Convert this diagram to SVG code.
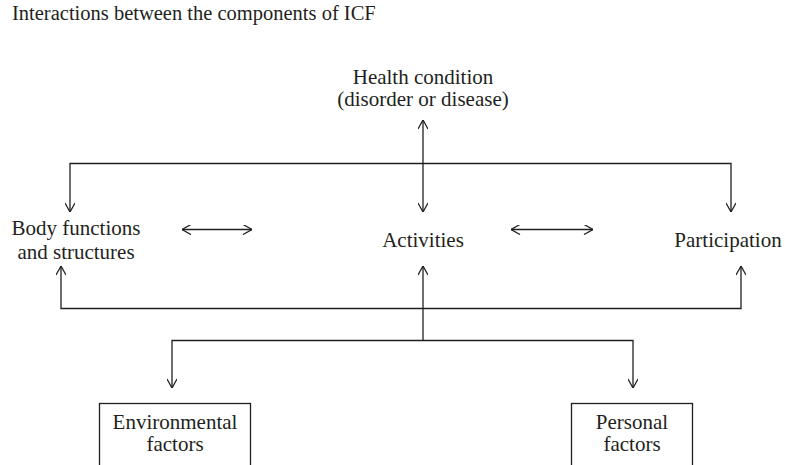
<svg xmlns="http://www.w3.org/2000/svg" width="785" height="465" viewBox="0 0 785 465">
<defs>
<marker id="ah" viewBox="0 0 10 10" refX="10" refY="5" markerWidth="10" markerHeight="10" markerUnits="userSpaceOnUse" orient="auto-start-reverse">
<path d="M1,0 L10,5 L1,10" fill="none" stroke="#231f20" stroke-width="1.3"/>
</marker>
</defs>
<style>
text{font-family:"Liberation Serif","Times New Roman",serif;font-size:21px;fill:#231f20;text-anchor:middle}
.ln{fill:none;stroke:#231f20;stroke-width:1.3}
.box{fill:#fff;stroke:#231f20;stroke-width:1.3}
</style>
<rect width="785" height="465" fill="#fff"/>
<text x="12" y="20" style="text-anchor:start;font-size:20.5px">Interactions between the components of ICF</text>
<g id="health"><text x="423" y="84">Health condition</text><text x="423" y="106">(disorder or disease)</text></g>
<g id="body"><text x="76" y="235">Body functions</text><text x="76" y="259">and structures</text></g>
<g id="activities"><text x="423" y="247">Activities</text></g>
<g id="participation"><text x="728" y="247">Participation</text></g>
<g id="environmental"><rect class="box" x="99.5" y="403.5" width="151" height="70"/><text x="175" y="429">Environmental</text><text x="175" y="451">factors</text></g>
<g id="personal"><rect class="box" x="571.5" y="403.5" width="121" height="70"/><text x="632" y="429">Personal</text><text x="632" y="451">factors</text></g>
<g id="connectors">
<path class="ln" d="M423,120 L423,212" marker-start="url(#ah)" marker-end="url(#ah)"/>
<path class="ln" d="M70,212 L70,163.5 L731,163.5 L731,212" marker-start="url(#ah)" marker-end="url(#ah)"/>
<path class="ln" d="M61,266 L61,308.5 L741,308.5 L741,266" marker-start="url(#ah)" marker-end="url(#ah)"/>
<path class="ln" d="M423,266 L423,340" marker-start="url(#ah)"/>
<path class="ln" d="M172,388 L172,340.5 L633,340.5 L633,388" marker-start="url(#ah)" marker-end="url(#ah)"/>
<path class="ln" d="M182,229.5 L252,229.5" marker-start="url(#ah)" marker-end="url(#ah)"/>
<path class="ln" d="M511,229.5 L593,229.5" marker-start="url(#ah)" marker-end="url(#ah)"/>
</g>
</svg>
